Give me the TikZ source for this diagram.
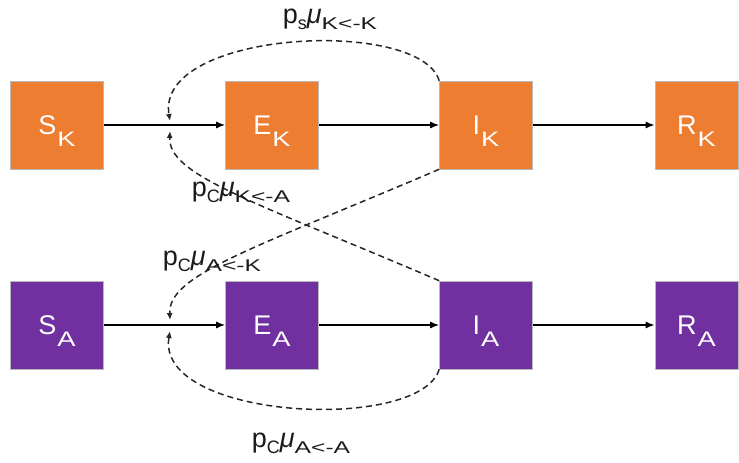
\documentclass[tikz,border=0pt]{standalone}
\usepackage{fontspec}
\usepackage{graphicx}
\setmainfont{Liberation Sans}
\usetikzlibrary{arrows.meta}
\definecolor{korange}{HTML}{ED7D31}
\definecolor{apurple}{HTML}{7030A0}
\definecolor{lblgray}{HTML}{1A1A1A}
\newcommand\boxlbl[2]{\fontsize{27}{27}\selectfont #1\hspace{1pt}\raisebox{-12pt}{\scalebox{1.3}[1]{\fontsize{21}{21}\selectfont #2}}}
\newcommand\mulbl[2]{\fontsize{27}{27}\selectfont p\raisebox{-6pt}{\fontsize{18}{18}\selectfont #1}\textit{μ}\raisebox{-6pt}{\scalebox{1.45}[1]{\fontsize{17}{17}\selectfont #2}}}
\tikzset{
  comp/.style={draw=gray!55, line width=0.6pt, minimum width=93pt, minimum height=88pt,
    inner sep=0pt, text=white, text height=19pt, text depth=0pt},
  kbox/.style={comp, fill=korange},
  abox/.style={comp, fill=apurple},
  flow/.style={line width=1.4pt, -{Latex[length=9pt,width=7pt]}},
  infect/.style={line width=1.5pt, draw=black!85, dash pattern=on 6pt off 4pt, -{Latex[length=7pt,width=6pt]}},
  rlabel/.style={text=lblgray, inner sep=0pt}
}
\begin{document}
\begin{tikzpicture}[x=1pt,y=-1pt]
\useasboundingbox (0,0) rectangle (739,463);
% top row
\node[kbox] (SK) at (57,125) {\boxlbl{S}{K}};
\node[kbox] (EK) at (272,125) {\boxlbl{E}{K}};
\node[kbox] (IK) at (486,125) {\boxlbl{I}{K}};
\node[kbox, minimum width=83pt] (RK) at (696.5,125) {\boxlbl{R}{K}};
% bottom row
\node[abox] (SA) at (57,325) {\boxlbl{S}{A}};
\node[abox] (EA) at (272,325) {\boxlbl{E}{A}};
\node[abox] (IA) at (486,325) {\boxlbl{I}{A}};
\node[abox, minimum width=83pt] (RA) at (696.5,325) {\boxlbl{R}{A}};
% merge points
\coordinate (mKt) at (170,121);
\coordinate (mKb) at (170,131);
\coordinate (mAt) at (170,320);
\coordinate (mAb) at (170,331);
% flows
\draw[flow] (SK) -- (EK);
\draw[flow] (EK) -- (IK);
\draw[flow] (IK) -- (RK);
\draw[flow] (SA) -- (EA);
\draw[flow] (EA) -- (IA);
\draw[flow] (IA) -- (RA);
% infection curves
\draw[infect] (IK.north west) .. controls (420,17) and (155,30) .. (mKt);
\draw[infect] (IA.north west) .. controls (250,200) and (168,175) .. (mKb);
\draw[infect] (IK.south west) .. controls (250,250) and (168,275) .. (mAt);
\draw[infect] (IA.south west) .. controls (420,433) and (155,420) .. (mAb);
% labels
\node[rlabel] (L1) at (330,19) {\mulbl{s}{K<-K}};
\node[rlabel] (L2) at (241,192) {\mulbl{C}{K<-A}};
\node[rlabel] (L3) at (212,261) {\mulbl{C}{A<-K}};
\node[rlabel] (L4) at (301,443) {\mulbl{C}{A<-A}};
\end{tikzpicture}
\end{document}
